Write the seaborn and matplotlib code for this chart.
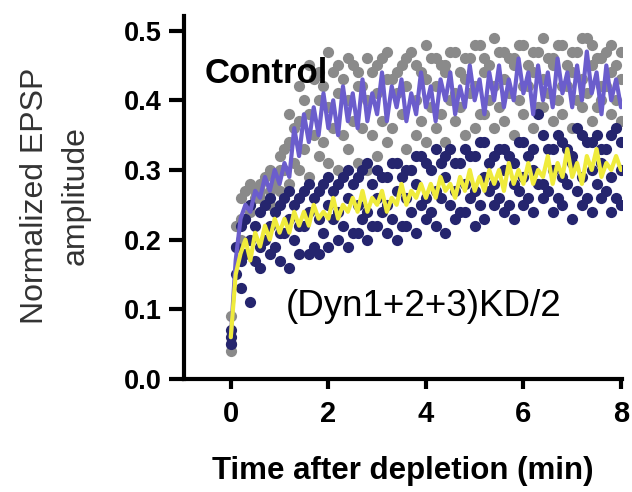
import numpy as np
import pandas as pd
import matplotlib
matplotlib.use("Agg")
import matplotlib.pyplot as plt
import seaborn as sns

# time axis (min)
t_mean = [round(0.1 * i, 1) for i in range(81)]
t_even = [round(0.2 * i, 1) for i in range(41)]
t_odd = [round(0.1 + 0.2 * i, 1) for i in range(40)]

# mean traces
control_mean = [0.06, 0.17, 0.23, 0.25, 0.24, 0.27, 0.26, 0.29, 0.27, 0.30,
                0.28, 0.31, 0.29, 0.36, 0.32, 0.38, 0.34, 0.39, 0.35, 0.41,
                0.36, 0.40, 0.35, 0.42, 0.37, 0.41, 0.36, 0.43, 0.37, 0.41,
                0.38, 0.44, 0.37, 0.42, 0.39, 0.43, 0.37, 0.41, 0.38, 0.44,
                0.39, 0.42, 0.37, 0.43, 0.40, 0.44, 0.38, 0.42, 0.39, 0.45,
                0.40, 0.43, 0.38, 0.44, 0.40, 0.45, 0.39, 0.43, 0.40, 0.46,
                0.41, 0.44, 0.38, 0.45, 0.40, 0.44, 0.39, 0.46, 0.41, 0.44,
                0.39, 0.45, 0.40, 0.47, 0.41, 0.44, 0.38, 0.45, 0.40, 0.43,
                0.39]
kd_mean = [0.06, 0.15, 0.18, 0.20, 0.17, 0.21, 0.19, 0.22, 0.20, 0.23,
           0.21, 0.23, 0.21, 0.24, 0.22, 0.24, 0.22, 0.25, 0.23, 0.24,
           0.23, 0.26, 0.23, 0.25, 0.24, 0.26, 0.24, 0.27, 0.24, 0.26,
           0.25, 0.27, 0.24, 0.26, 0.25, 0.28, 0.25, 0.27, 0.26, 0.28,
           0.26, 0.28, 0.26, 0.29, 0.27, 0.28, 0.26, 0.29, 0.27, 0.30,
           0.27, 0.29, 0.27, 0.30, 0.28, 0.30, 0.27, 0.31, 0.28, 0.30,
           0.28, 0.31, 0.28, 0.30, 0.29, 0.32, 0.28, 0.31, 0.29, 0.33,
           0.29, 0.31, 0.28, 0.32, 0.30, 0.33, 0.29, 0.31, 0.30, 0.32,
           0.30]

# individual control cells (even / odd time points)
ctrl_a = [0.05, 0.26, 0.28, 0.27, 0.30, 0.32, 0.38, 0.42, 0.45, 0.44, 0.47,
          0.45, 0.46, 0.44, 0.46, 0.45, 0.47, 0.44, 0.46, 0.45, 0.48, 0.46,
          0.45, 0.47, 0.46, 0.48, 0.46, 0.49, 0.47, 0.46, 0.48, 0.47, 0.49,
          0.46, 0.48, 0.47, 0.49, 0.48, 0.46, 0.48, 0.47]
ctrl_b = [0.09, 0.23, 0.25, 0.28, 0.27, 0.30, 0.34, 0.37, 0.38, 0.40, 0.39,
          0.41, 0.40, 0.42, 0.40, 0.41, 0.43, 0.41, 0.42, 0.40, 0.43, 0.42,
          0.44, 0.41, 0.43, 0.42, 0.44, 0.42, 0.43, 0.45, 0.42, 0.44, 0.43,
          0.45, 0.42, 0.44, 0.43, 0.45, 0.42, 0.44, 0.43]
ctrl_c = [0.04, 0.20, 0.24, 0.26, 0.25, 0.27, 0.28, 0.30, 0.29, 0.32, 0.31,
          0.30, 0.33, 0.31, 0.30, 0.32, 0.34, 0.31, 0.33, 0.35, 0.34, 0.36,
          0.34, 0.37, 0.35, 0.36, 0.38, 0.36, 0.37, 0.35, 0.38, 0.36, 0.39,
          0.37, 0.38, 0.36, 0.39, 0.37, 0.40, 0.38, 0.37]
ctrl_g = [0.22, 0.27, 0.26, 0.29, 0.28, 0.33, 0.36, 0.40, 0.43, 0.42,
          0.44, 0.43, 0.45, 0.42, 0.44, 0.46, 0.43, 0.45, 0.47, 0.44,
          0.46, 0.45, 0.47, 0.44, 0.46, 0.48, 0.45, 0.47, 0.46, 0.48,
          0.45, 0.47, 0.46, 0.48, 0.45, 0.47, 0.49, 0.46, 0.47, 0.45]
ctrl_h = [0.19, 0.23, 0.27, 0.25, 0.29, 0.30, 0.31, 0.33, 0.35, 0.34,
          0.36, 0.35, 0.37, 0.36, 0.35, 0.37, 0.36, 0.38, 0.30, 0.37,
          0.39, 0.38, 0.40, 0.39, 0.41, 0.38, 0.40, 0.39, 0.41, 0.40,
          0.42, 0.39, 0.41, 0.40, 0.42, 0.40, 0.41, 0.39, 0.42, 0.40]

# individual KD cells (even / odd time points)
kd_d = [0.07, 0.22, 0.25, 0.24, 0.26, 0.25, 0.27, 0.26, 0.28, 0.27, 0.29,
        0.28, 0.30, 0.29, 0.31, 0.30, 0.29, 0.31, 0.30, 0.32, 0.31, 0.33,
        0.32, 0.31, 0.33, 0.32, 0.34, 0.32, 0.33, 0.31, 0.34, 0.33, 0.35,
        0.33, 0.34, 0.32, 0.35, 0.34, 0.33, 0.35, 0.34]
kd_e = [0.05, 0.17, 0.20, 0.19, 0.22, 0.21, 0.23, 0.22, 0.24, 0.23, 0.25,
        0.24, 0.26, 0.25, 0.24, 0.26, 0.25, 0.27, 0.26, 0.28, 0.26, 0.27,
        0.29, 0.27, 0.28, 0.27, 0.29, 0.28, 0.30, 0.28, 0.29, 0.30, 0.28,
        0.30, 0.29, 0.31, 0.29, 0.30, 0.31, 0.29, 0.30]
kd_f = [0.06, 0.13, 0.11, 0.16, 0.18, 0.17, 0.16, 0.18, 0.18, 0.18, 0.19,
        0.20, 0.19, 0.21, 0.20, 0.22, 0.21, 0.20, 0.22, 0.21, 0.23, 0.22,
        0.21, 0.23, 0.24, 0.22, 0.23, 0.25, 0.24, 0.23, 0.25, 0.24, 0.26,
        0.24, 0.25, 0.23, 0.25, 0.24, 0.26, 0.24, 0.25]
kd_g = [0.19, 0.23, 0.22, 0.25, 0.24, 0.26, 0.25, 0.27, 0.26, 0.28,
        0.27, 0.29, 0.28, 0.30, 0.28, 0.29, 0.31, 0.29, 0.30, 0.32,
        0.30, 0.31, 0.33, 0.31, 0.32, 0.34, 0.31, 0.33, 0.32, 0.34,
        0.32, 0.38, 0.33, 0.35, 0.33, 0.36, 0.34, 0.35, 0.33, 0.36]
kd_h = [0.15, 0.18, 0.17, 0.20, 0.19, 0.21, 0.20, 0.22, 0.19, 0.21,
        0.23, 0.22, 0.21, 0.23, 0.22, 0.24, 0.23, 0.22, 0.24, 0.25,
        0.24, 0.26, 0.25, 0.24, 0.26, 0.25, 0.27, 0.26, 0.25, 0.27,
        0.26, 0.28, 0.27, 0.26, 0.28, 0.27, 0.26, 0.28, 0.27, 0.26]

gray = "#8a8a8a"
navy = "#25256e"
purple = "#6b5dcc"
yellow = "#efeb3c"


def build_cells():
    rows = []
    for name, times, vals, grp in [
            ("A", t_even, ctrl_a, "Control"), ("B", t_even, ctrl_b, "Control"),
            ("C", t_even, ctrl_c, "Control"), ("G", t_odd, ctrl_g, "Control"),
            ("H", t_odd, ctrl_h, "Control"),
            ("D", t_even, kd_d, "KD"), ("E", t_even, kd_e, "KD"),
            ("F", t_even, kd_f, "KD"), ("I", t_odd, kd_g, "KD"),
            ("J", t_odd, kd_h, "KD")]:
        for t, v in zip(times, vals):
            rows.append({"time": t, "amp": v, "cell": name, "group": grp})
    return pd.DataFrame(rows)


def main():
    sns.set_style("ticks")
    plt.rcParams["font.family"] = ["Liberation Sans", "DejaVu Sans"]
    for key in ["text.color", "axes.labelcolor", "xtick.color", "ytick.color",
                "axes.edgecolor"]:
        plt.rcParams[key] = "black"

    cells = build_cells()
    means = pd.DataFrame({"time": t_mean + t_mean,
                          "amp": control_mean + kd_mean,
                          "group": ["Control"] * 81 + ["KD"] * 81})

    fig = plt.figure(figsize=(6.32, 4.92), dpi=100)
    ax = fig.add_axes([0.2911, 0.2297, 0.6930, 0.7378])

    sns.scatterplot(data=cells[cells.group == "Control"], x="time", y="amp",
                    color=gray, s=65, linewidth=0, ax=ax, legend=False)
    sns.scatterplot(data=cells[cells.group == "KD"], x="time", y="amp",
                    color=navy, s=65, linewidth=0, ax=ax, legend=False)
    sns.lineplot(data=means, x="time", y="amp", hue="group",
                 palette={"Control": purple, "KD": yellow},
                 estimator=None, lw=3, ax=ax, legend=False)

    ax.set_xlim(-0.96, 8.02)
    ax.set_ylim(0, 0.521)
    ax.set_xticks([0, 2, 4, 6, 8])
    ax.set_yticks([0.0, 0.1, 0.2, 0.3, 0.4, 0.5])
    ax.set_yticklabels(["0.0", "0.1", "0.2", "0.3", "0.4", "0.5"])
    sns.despine(ax=ax)
    for sp in ["left", "bottom"]:
        ax.spines[sp].set_linewidth(3)
    ax.tick_params(axis="y", length=11, width=3, pad=5, labelsize=19.5)
    ax.tick_params(axis="x", length=7, width=3, pad=8, labelsize=21)
    for lab in ax.get_xticklabels() + ax.get_yticklabels():
        lab.set_fontweight("bold")

    ax.set_xlabel("")
    ax.set_ylabel("")
    ax.text(0.5, -0.254, "Time after depletion (min)", transform=ax.transAxes,
            ha="center", va="center", fontsize=22.5, fontweight="bold")
    ax.text(-0.2945, 0.505, "Normalized EPSP\namplitude", transform=ax.transAxes,
            rotation=90, ha="center", va="center", multialignment="center",
            fontsize=23, color="#333333", linespacing=1.45)

    ax.text(-0.53, 0.425, "Control", fontsize=25, fontweight="bold")
    ax.text(1.13, 0.090, "(Dyn1+2+3)KD/2", fontsize=26.5)

    fig.savefig("out.png", dpi=100)


if __name__ == "__main__":
    main()
